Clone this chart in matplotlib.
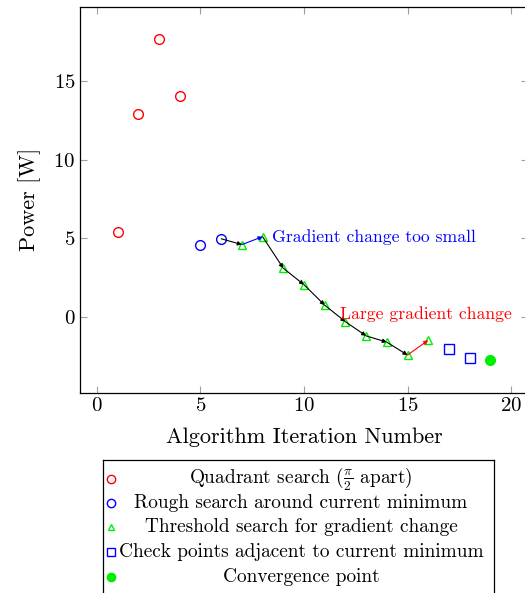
import matplotlib
matplotlib.use("Agg")
import matplotlib.pyplot as plt

plt.rcParams['font.family'] = ['cmr10', 'DejaVu Serif']
plt.rcParams['mathtext.fontset'] = 'cm'
plt.rcParams['axes.formatter.use_mathtext'] = True

# Data
quad_x = [1, 2, 3, 4]
quad_y = [5.4, 12.9, 17.65, 14.05]
rough_x = [5, 6]
rough_y = [4.58, 4.97]
thresh_x = [7, 8, 9, 10, 11, 12, 13, 14, 15, 16]
thresh_y = [4.6, 5.1, 3.1, 2.05, 0.75, -0.3, -1.2, -1.6, -2.42, -1.48]
check_x = [17, 18]
check_y = [-2.04, -2.6]
conv_x = [19]
conv_y = [-2.72]

xticks = [0, 5, 10, 15, 20]
yticks = [0, 5, 10, 15]

legend_labels = [r'Quadrant search ($\frac{\pi}{2}$ apart)',
                 'Rough search around current minimum',
                 'Threshold search for gradient change',
                 'Check points adjacent to current minimum',
                 'Convergence point']

W, H = 525, 593
fig = plt.figure(figsize=(W/100, H/100), dpi=100)
ax_l, ax_r, ax_t, ax_b = 80.4, 527.6, 7, 392.5
ax = fig.add_axes([ax_l/W, 1-ax_b/H, (ax_r-ax_l)/W, (ax_b-ax_t)/H])

ax.plot(quad_x, quad_y, 'o', mfc='none', mec='red', ms=7, mew=1.0)
ax.plot(rough_x, rough_y, 'o', mfc='none', mec='blue', ms=7, mew=1.0)
ax.plot(thresh_x, thresh_y, '^', mfc='none', mec='#00ee00', ms=6, mew=1.0)
ax.plot(check_x, check_y, 's', mfc='none', mec='blue', ms=7, mew=1.0)
ax.plot(conv_x, conv_y, 'o', color='#00ee00', ms=7)

# Arrow path: from last rough point through threshold points
path_x = [rough_x[-1]] + thresh_x
path_y = [rough_y[-1]] + thresh_y
for i in range(len(path_x)-1):
    col = 'black'
    if i == 1:
        col = 'blue'
    if i == len(path_x)-2:
        col = 'red'
    ax.annotate('', xy=(path_x[i+1], path_y[i+1]), xytext=(path_x[i], path_y[i]),
                arrowprops=dict(arrowstyle='-|>', color=col, lw=0.8,
                                mutation_scale=6, shrinkA=0, shrinkB=0))

ax.text(thresh_x[1] + 0.45, thresh_y[1], 'Gradient change too small', color='blue',
        fontsize=12.7, ha='left', va='center')
ax.text(15.9, 0.2, 'Large gradient change', color='red', fontsize=12.7,
        ha='center', va='center')

ax.set_xlim(-0.8, 20.8)
ax.set_ylim(-4.8, 19.7)
ax.set_xticks(xticks)
ax.set_yticks(yticks)
ax.tick_params(direction='in', length=5, color='#a0a0a0', labelsize=15,
               top=True, right=True)
for s in ax.spines.values():
    s.set_linewidth(0.9)
ax.set_xlabel('Algorithm Iteration Number', fontsize=16, labelpad=9)
ax.set_ylabel('Power [W]', fontsize=16, labelpad=9)

# Legend (manual, centered text like pgfplots)
lg_l, lg_r, lg_t, lg_b = 103, 494, 460, 605
lax = fig.add_axes([lg_l/W, 1-lg_b/H, (lg_r-lg_l)/W, (lg_b-lg_t)/H])
lax.set_xlim(lg_l, lg_r)
lax.set_ylim(lg_b, lg_t)
lax.set_xticks([])
lax.set_yticks([])
for s in lax.spines.values():
    s.set_linewidth(0.9)
styles = [dict(marker='o', mfc='none', mec='red', ms=6),
          dict(marker='o', mfc='none', mec='blue', ms=6),
          dict(marker='^', mfc='none', mec='#00ee00', ms=5),
          dict(marker='s', mfc='none', mec='blue', ms=6),
          dict(marker='o', mfc='#00ee00', mec='#00ee00', ms=6)]
rows = [479, 503, 527, 552, 577]
for lab, st, yy in zip(legend_labels, styles, rows):
    lax.plot([111], [yy], ls='none', mew=1.0, **st)
    lax.text(301, yy, lab, fontsize=13.9, ha='center', va='center')

fig.savefig('out.png', dpi=100)
